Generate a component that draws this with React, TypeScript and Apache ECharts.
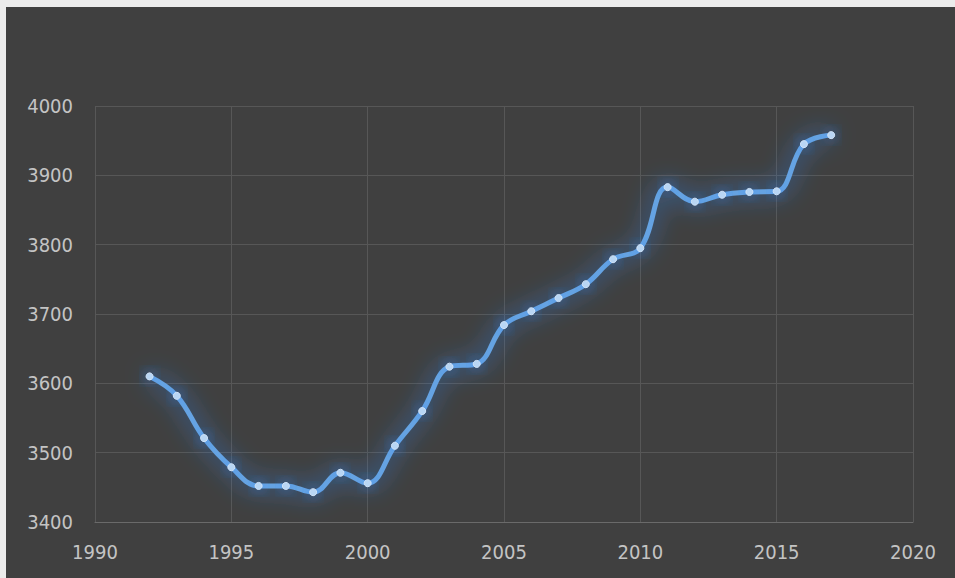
import React, { useEffect, useRef } from "react";
import * as echarts from "echarts";

const years = [1992, 1993, 1994, 1995, 1996, 1997, 1998, 1999, 2000, 2001, 2002, 2003, 2004, 2005, 2006, 2007, 2008, 2009, 2010, 2011, 2012, 2013, 2014, 2015, 2016, 2017];
const values = [3610, 3582, 3521, 3479, 3452, 3452, 3443, 3471, 3456, 3510, 3560, 3624, 3628, 3684, 3704, 3723, 3743, 3779, 3795, 3883, 3862, 3872, 3876, 3877, 3945, 3958];

const FONT = "'DejaVu Sans Condensed', 'DejaVu Sans', sans-serif";

export default function App() {
  const ref = useRef<HTMLDivElement>(null);
  useEffect(() => {
    document.body.style.margin = "0";
    document.body.style.background = "#ececec";
    if (!ref.current) return;
    const chart = echarts.init(ref.current, null, { renderer: "svg" });
    chart.setOption({
      animation: false,
      backgroundColor: "#404040",
      grid: { left: 89, right: 42, top: 99, bottom: 56, containLabel: false },
      xAxis: {
        type: "value",
        min: 1990,
        max: 2020,
        interval: 5,
        axisLine: { show: true, lineStyle: { color: "#6a6a6a", width: 1 } },
        axisTick: { show: false },
        splitLine: { show: true, lineStyle: { color: "#575757", width: 1 } },
        axisLabel: {
          color: "#c4c4c4",
          fontSize: 20,
          fontFamily: FONT,
          margin: 20,
          formatter: (v: number) => String(v),
        },
      },
      yAxis: {
        type: "value",
        min: 3400,
        max: 4000,
        interval: 100,
        axisLine: { show: false },
        axisTick: { show: false },
        splitLine: { show: true, lineStyle: { color: "#575757", width: 1 } },
        axisLabel: {
          color: "#c4c4c4",
          fontSize: 20,
          fontFamily: FONT,
          margin: 22,
          formatter: (v: number) => String(v),
        },
      },
      series: [
        {
          type: "line",
          data: years.map((y, i) => [y, values[i]]),
          smooth: 0.4,
          symbol: "circle",
          symbolSize: 7,
          lineStyle: {
            color: "#65a3e3",
            width: 5,
            shadowColor: "rgba(50,140,255,1)",
            shadowBlur: 24,
          },
          itemStyle: {
            color: "#b9d6f4",
            borderColor: "#cfe3f8",
            borderWidth: 1,
            shadowColor: "rgba(50,140,255,1)",
            shadowBlur: 14,
          },
        },
      ],
    });
    return () => chart.dispose();
  }, []);
  return (
    <div
      ref={ref}
      style={{ position: "absolute", left: 6, top: 7, width: 949, height: 571 }}
    />
  );
}
